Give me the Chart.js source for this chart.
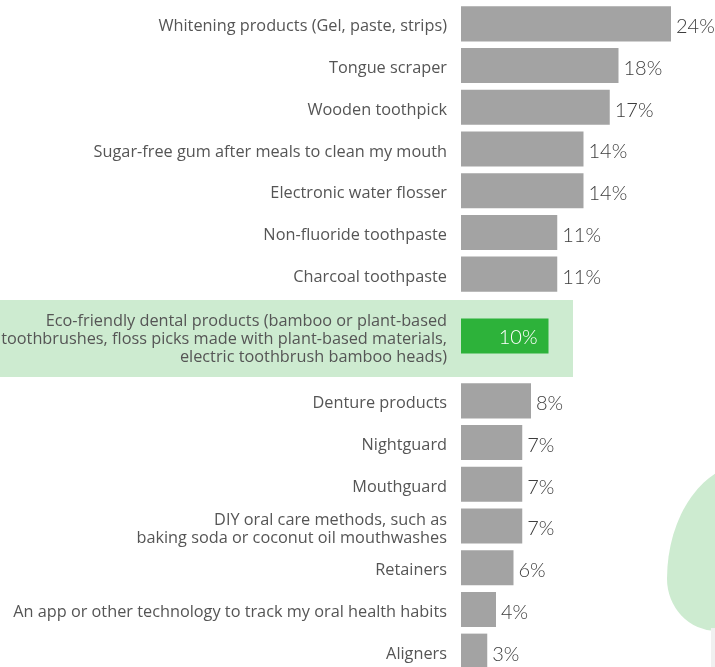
<!DOCTYPE html>
<html>
<head>
<meta charset="utf-8">
<script src="https://cdn.jsdelivr.net/npm/chart.js@4.4.1/dist/chart.umd.min.js"></script>
<style>
  html, body { margin: 0; padding: 0; background: #fff; width: 715px; height: 667px; overflow: hidden; position: relative; }
  .box { position: absolute; left: 0; width: 715px; }
  #leaf { position: absolute; left: 667px; top: 463px; width: 120px; height: 168px; background: #cdebd0;
          border-radius: 100% 0 60% 60% / 100% 0 45% 45%; }
  #strip { position: absolute; left: 711px; top: 628px; width: 4px; height: 40px; background: #f0f0f0; }
  #hl { position: absolute; left: 0; top: 300px; width: 573px; height: 77px; background: #cdebd0; }
</style>
</head>
<body>
<div id="leaf"></div>
<div id="strip"></div>
<div id="hl"></div>
<div class="box" style="top:3px;height:292px"><canvas id="topChart"></canvas></div>
<div class="box" style="top:300px;height:72px"><canvas id="midChart"></canvas></div>
<div class="box" style="top:380px;height:292px"><canvas id="bottomChart"></canvas></div>
<script>
// survey answers
const categories = [
    "Whitening products (Gel, paste, strips)",
    "Tongue scraper",
    "Wooden toothpick",
    "Sugar-free gum after meals to clean my mouth",
    "Electronic water flosser",
    "Non-fluoride toothpaste",
    "Charcoal toothpaste",
    ["Eco-friendly dental products (bamboo or plant-based",
     "toothbrushes, floss picks made with plant-based materials,",
     "electric toothbrush bamboo heads)"],
    "Denture products",
    "Nightguard",
    "Mouthguard",
    ["DIY oral care methods, such as", "baking soda or coconut oil mouthwashes"],
    "Retainers",
    "An app or other technology to track my oral health habits",
    "Aligners"
];
const shares = [24, 18, 17, 14, 14, 11, 11, 10, 8, 7, 7, 7, 6, 4, 3];
const highlightIndex = 7;

// draw the % next to (or inside) each bar
const valueLabels = {
    id: 'valueLabels',
    afterDatasetsDraw(chart, args, opts) {
        const ctx = chart.ctx;
        const values = chart.data.datasets[0].data;
        ctx.save();
        ctx.textBaseline = 'middle';
        chart.getDatasetMeta(0).data.forEach((bar, i) => {
            const txt = values[i] + '%';
            if (opts.inside) {
                ctx.font = '300 20px Lato, "Open Sans", sans-serif';
                ctx.fillStyle = '#ffffff';
                ctx.textAlign = 'right';
                ctx.fillText(txt, bar.x - 11, bar.y + 2);
            } else {
                ctx.font = '300 20px Lato, "Open Sans", sans-serif';
                ctx.fillStyle = '#3d3d3d';
                ctx.textAlign = 'left';
                ctx.fillText(txt, bar.x + 5, bar.y + 3);
            }
        });
        ctx.restore();
    }
};

function makeChart(id, labels, data, color, barPct, inside) {
    return new Chart(document.getElementById(id).getContext('2d'), {
        type: 'bar',
        data: {
            labels: labels,
            datasets: [{ data: data, backgroundColor: color, borderWidth: 0,
                         categoryPercentage: 1, barPercentage: barPct }]
        },
        options: {
            indexAxis: 'y',
            responsive: true,
            maintainAspectRatio: false,
            animation: false,
            layout: { padding: { left: 0, right: 9, top: 0, bottom: 0 } },
            plugins: { legend: { display: false }, tooltip: { enabled: false },
                       valueLabels: { inside: inside } },
            scales: {
                x: { display: false, min: 0, max: 28 },
                y: {
                    grid: { display: false, drawTicks: false },
                    border: { display: false },
                    ticks: { autoSkip: false, padding: 14, labelOffset: 3, color: '#555555',
                             font: { family: '"Open Sans", sans-serif', size: 16.3, lineHeight: 1.1 } },
                    afterFit: scale => {
                        scale.width = 461;
                        scale.paddingTop = 0;
                        scale.paddingBottom = 0;
                    }
                }
            }
        },
        plugins: [valueLabels]
    });
}

window.onload = function () {
    makeChart('topChart', categories.slice(0, highlightIndex), shares.slice(0, highlightIndex), '#a3a3a3', 0.84, false);
    makeChart('midChart', categories.slice(highlightIndex, highlightIndex + 1),
              shares.slice(highlightIndex, highlightIndex + 1), '#2db23a', 35 / 72, true);
    makeChart('bottomChart', categories.slice(highlightIndex + 1), shares.slice(highlightIndex + 1), '#a3a3a3', 0.84, false);
};
</script>
</body>
</html>
